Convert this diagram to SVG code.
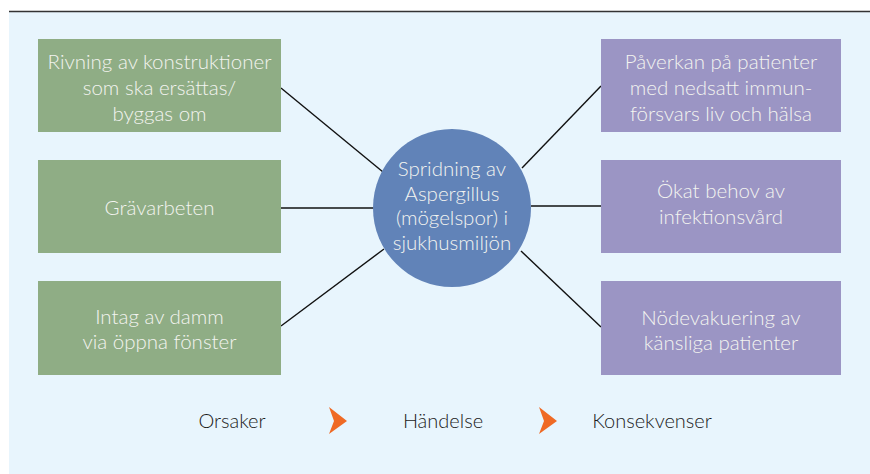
<svg xmlns="http://www.w3.org/2000/svg" width="870" height="474" viewBox="0 0 870 474">
<style>
.bg{fill:#e8f5fd}
.cause{fill:#8fad85}
.cons{fill:#9b95c4}
.event{fill:#6183b8}
.t{font-family:Lato,"Open Sans",sans-serif;font-weight:300;font-size:20.5px;fill:#f3f4f0;text-anchor:middle}
.lg{font-family:Lato,"Open Sans",sans-serif;font-weight:300;font-size:20px;fill:#1a1a1a;text-anchor:middle}
.c{stroke:#111;stroke-width:1.4;fill:none}
.chev{fill:#ef6a25}
</style>
<rect class="bg" x="9" y="11" width="861" height="463"/>
<line x1="9" y1="11.5" x2="870" y2="11.5" stroke="#333" stroke-width="1.3"/>
<g id="connectors">
<line class="c" x1="281" y1="88" x2="383" y2="172"/>
<line class="c" x1="281" y1="208" x2="374" y2="208"/>
<line class="c" x1="281" y1="326" x2="384" y2="249"/>
<line class="c" x1="522" y1="168" x2="601" y2="86"/>
<line class="c" x1="531" y1="206" x2="601" y2="206"/>
<line class="c" x1="521" y1="251" x2="601" y2="327"/>
</g>
<g id="n1"><rect class="cause" x="38" y="39" width="243" height="93"/>
<text class="t" x="159.5" y="69">Rivning av konstruktioner</text>
<text class="t" x="159.5" y="95">som ska ersättas/</text>
<text class="t" x="159.5" y="121">byggas om</text></g>
<g id="n2"><rect class="cause" x="38" y="160" width="243" height="93"/>
<text class="t" x="159.5" y="215">Grävarbeten</text></g>
<g id="n3"><rect class="cause" x="38" y="281" width="243" height="94"/>
<text class="t" x="159.5" y="324">Intag av damm</text>
<text class="t" x="159.5" y="349">via öppna fönster</text></g>
<g id="center"><circle class="event" cx="452" cy="208" r="79"/>
<text class="t" x="452" y="176">Spridning av</text>
<text class="t" x="452" y="201">Aspergillus</text>
<text class="t" x="452" y="225">(mögelspor) i</text>
<text class="t" x="452" y="250">sjukhusmiljön</text></g>
<g id="r1"><rect class="cons" x="601" y="39" width="240" height="93"/>
<text class="t" x="721" y="69">Påverkan på patienter</text>
<text class="t" x="721" y="95">med nedsatt immun-</text>
<text class="t" x="721" y="121">försvars liv och hälsa</text></g>
<g id="r2"><rect class="cons" x="601" y="160" width="240" height="93"/>
<text class="t" x="721" y="198">Ökat behov av</text>
<text class="t" x="721" y="224">infektionsvård</text></g>
<g id="r3"><rect class="cons" x="601" y="281" width="240" height="94"/>
<text class="t" x="721" y="325">Nödevakuering av</text>
<text class="t" x="721" y="350">känsliga patienter</text></g>
<g id="legend">
<text class="lg" x="232" y="428">Orsaker</text>
<polygon class="chev" points="329,407 347,421 329,434 334,421"/>
<text class="lg" x="443" y="428">Händelse</text>
<polygon class="chev" points="539,407 557,421 539,434 544,421"/>
<text class="lg" x="652" y="428">Konsekvenser</text>
</g>
</svg>
